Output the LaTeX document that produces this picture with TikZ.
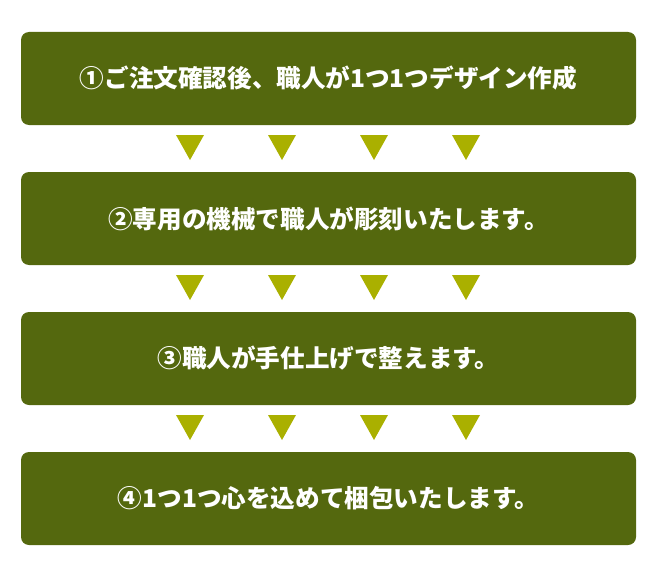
\documentclass[tikz,border=0pt]{standalone}
\usepackage{fontspec}
\newfontfamily\jpfont{Noto Sans CJK JP}
\usepackage{xcolor}
\definecolor{boxgreen}{RGB}{84,104,14}
\definecolor{arrowolive}{RGB}{170,176,0}

\begin{document}
\begin{tikzpicture}[line cap=round,line join=round,x=1pt,y=-1pt,
    stepbox/.style={fill=boxgreen,rounded corners=8pt,minimum width=615pt,minimum height=93pt,inner sep=0pt,text=white,font=\jpfont\bfseries\fontsize{24.6}{28}\selectfont}]
                \useasboundingbox (0,0) rectangle (659,578);
                \node[stepbox] (s1) at (328.5,78.5) {①ご注文確認後、職人が1つ1つデザイン作成};
                \node[stepbox] (s2) at (328.5,218.5) {②専用の機械で職人が彫刻いたします。};
                \node[stepbox] (s3) at (328.5,358.5) {③職人が手仕上げで整えます。};
                \node[stepbox] (s4) at (328.5,498.5) {④1つ1つ心を込めて梱包いたします。};
                \foreach \y in {135,275,415}
                    \foreach \x in {190,282,374,466}
                        \fill[arrowolive] (\x-14,\y) -- (\x+14,\y) -- (\x,\y+25) -- cycle;
            \end{tikzpicture}
\end{document}
